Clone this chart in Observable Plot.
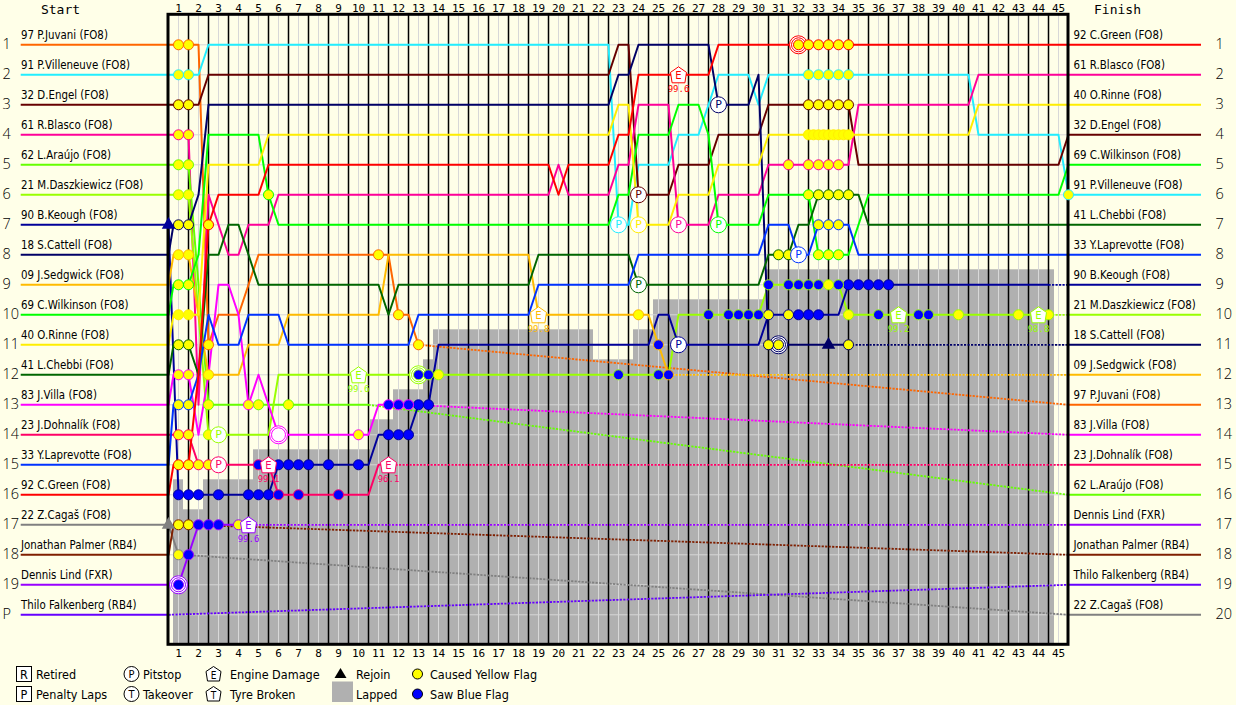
<!DOCTYPE html>
<html><head><meta charset="utf-8">
<script src="https://cdn.jsdelivr.net/npm/d3@7"></script>
<script src="https://cdn.jsdelivr.net/npm/@observablehq/plot@0.6"></script>
<style>
body{margin:0;background:#FFFFE8;}
#wrap{width:1236px;}
#chart svg{display:block;}
</style></head>
<body><div id="wrap"><div id="chart"></div>
<svg id="legend" width="1236" height="45" style="display:block" font-family="'DejaVu Sans Condensed', sans-serif" font-size="12.5">
  <rect x="16.5" y="6.5" width="15" height="15" fill="#fff" stroke="#000"/>
  <text x="24" y="18.5" text-anchor="middle">R</text>
  <text x="36" y="18.5">Retired</text>
  <rect x="16.5" y="26.5" width="15" height="15" fill="#fff" stroke="#000"/>
  <text x="24" y="38.5" text-anchor="middle">P</text>
  <text x="36" y="38.5">Penalty Laps</text>
  <circle cx="131.5" cy="14" r="7.5" fill="#fff" stroke="#000"/>
  <text x="131.5" y="18.3" text-anchor="middle" font-size="11">P</text>
  <text x="143" y="18.5">Pitstop</text>
  <circle cx="131.5" cy="34" r="7.5" fill="#fff" stroke="#000"/>
  <text x="131.5" y="38.3" text-anchor="middle" font-size="11">T</text>
  <text x="143" y="38.5">Takeover</text>
  <path d="M213.5,6.5 L221,11.5 L219.5,21 L207.5,21 L206,11.5 Z" fill="#fff" stroke="#000"/>
  <text x="213.5" y="19" text-anchor="middle" font-size="10">E</text>
  <text x="230" y="18.5">Engine Damage</text>
  <path d="M213.5,26.5 L221,31.5 L219.5,41 L207.5,41 L206,31.5 Z" fill="#fff" stroke="#000"/>
  <text x="213.5" y="39" text-anchor="middle" font-size="10">T</text>
  <text x="230" y="38.5">Tyre Broken</text>
  <path d="M340.5,8 L346.5,18 L334.5,18 Z" fill="#000"/>
  <text x="356" y="18.5">Rejoin</text>
  <rect x="332" y="21.5" width="21" height="20.5" fill="#b0b0b0"/>
  <text x="356" y="38.5">Lapped</text>
  <circle cx="417.5" cy="14" r="5" fill="#ffff00" stroke="#000"/>
  <text x="430" y="18.5">Caused Yellow Flag</text>
  <circle cx="417.5" cy="34" r="5" fill="#0000ff" stroke="#000"/>
  <text x="430" y="38.5">Saw Blue Flag</text>
</svg>
</div>
<script>
// ---------------- DATA ----------------
const laps = d3.range(1, 46);
const driverNames = ["97 P.Juvani (FO8)", "91 P.Villeneuve (FO8)", "32 D.Engel (FO8)", "61 R.Blasco (FO8)",
  "62 L.Araújo (FO8)", "21 M.Daszkiewicz (FO8)", "90 B.Keough (FO8)", "18 S.Cattell (FO8)",
  "09 J.Sedgwick (FO8)", "69 C.Wilkinson (FO8)", "40 O.Rinne (FO8)", "41 L.Chebbi (FO8)",
  "83 J.Villa (FO8)", "23 J.Dohnalík (FO8)", "33 Y.Laprevotte (FO8)", "92 C.Green (FO8)",
  "22 Z.Cagaš (FO8)", "Jonathan Palmer (RB4)", "Dennis Lind (FXR)", "Thilo Falkenberg (RB4)"];
const startPos = [1,2,3,4,5,6,7,8,9,10,11,12,13,14,15,16,17,18,19,20];
const startLabels = ["1","2","3","4","5","6","7","8","9","10","11","12","13","14","15","16","17","18","19","P"];
const finishPos = [13,6,4,2,16,10,9,11,12,5,3,7,14,15,8,1,20,18,17,19];
const finishLabels = ["1","2","3","4","5","6","7","8","9","10","11","12","13","14","15","16","17","18","19","20"];

// solid race lines: [lap, position]
const pathJuvani = [[0.5,1],[2,1],[2.5,11],[3,10],[4,10],[5,8],[11.5,8],[12,10],[12.5,10],[13,11]];
const pathVilleneuve = [[0.5,2],[2,2],[2.5,1],[22.5,1],[23,7],[23.5,7],[24,5],[25.5,5],[26,4],[27,4],[28,2],[29.5,2],[30,3],[30.5,2],[40.5,2],[41,4],[45,4],[45.5,6]];
const pathEngel = [[0.5,3],[2,3],[2.5,2],[22.5,2],[23,1],[23.5,1],[24,6],[25.5,6],[26,5],[27.5,5],[28,4],[30,4],[30.5,3],[34.5,3],[35,5],[45,5],[45.5,4]];
const pathBlasco = [[0.5,4],[1.5,4],[2,13],[2.5,6],[3,7],[3.5,8],[4,8],[4.5,7],[5.5,7],[6,6],[19.5,6],[20,5],[20.5,6],[22.5,6],[23,5],[23.5,5],[24,3],[25.5,3],[26,7],[27.5,7],[28,6],[30,6],[30.5,5],[34.5,5],[35,3],[40.5,3],[41,2],[45.5,2]];
const pathAraujo = [[0.5,5],[1.5,5],[2,9],[2.5,13],[10.5,13]];
const pathDaszkiewicz = [[0.5,6],[1.5,6],[2,10],[2.5,14],[3,14],[5.5,14],[6,12],[25.5,12],[26,10],[30,10],[30.5,9],[34,9],[34.5,10],[44.5,10]];
const pathKeough = [[0.5,7],[1,16],[5.5,16],[6,15],[10.5,15],[11,14],[12.5,14],[13,13],[13.5,13],[14,11],[24.5,11],[25,10],[25.5,10],[26,11],[30,11],[30.5,10],[34,10],[34.5,9],[44.5,9]];
const pathCattell = [[0.5,8],[0.75,7],[1.5,7],[2,6],[2.5,3],[22.5,3],[23,2],[23.5,2],[24,1],[27.5,1],[28,3],[29.5,3],[30,2],[30.5,11],[34.5,11]];
const pathSedgwick = [[0.5,9],[0.75,8],[1.5,8],[2,10],[2.5,12],[4,12],[4.5,11],[6,11],[6.5,10],[11,10],[11.5,8],[18.5,8],[19,10],[24.5,10],[25,11],[25.5,12]];
const pathWilkinson = [[0.5,10],[0.75,9],[1.5,9],[2,8],[2.5,4],[5,4],[5.5,6],[6,7],[22.5,7],[23,6],[23.5,6],[24,4],[25.5,4],[26,3],[27,3],[27.5,4],[28,7],[30,7],[30.5,6],[32.5,6],[33,8],[34.5,8],[35,7],[35.5,6],[45,6],[45.5,5]];
const pathRinne = [[0.5,11],[0.75,10],[2,10],[2.5,5],[5,5],[5.5,4],[22.5,4],[23,3],[23.5,3],[24,7],[25.5,7],[26,6],[27.5,6],[28,5],[30,5],[30.5,4],[40.5,4],[41,3],[45.5,3]];
const pathChebbi = [[0.5,12],[0.75,11],[1.5,11],[2,12],[2.5,8],[3,8],[3.5,7],[4,7],[4.5,8],[5,9],[11,9],[11.5,10],[12,9],[18.5,9],[19,8],[23.5,8],[24,9],[30,9],[30.5,8],[31.5,8],[32,7],[32.5,7],[33,6],[35,6],[35.5,7],[45.5,7]];
const pathVilla = [[0.5,13],[0.75,12],[1.5,12],[2,14],[2.5,12],[3,9],[3.5,9],[4,10],[4.5,13],[5,12],[5.5,13],[6,14],[10.5,14],[11,13],[12.5,13]];
const pathDohnalik = [[0.5,14],[1.5,14],[2,15],[3,15],[5.5,15],[6,16],[10.5,16],[11,15],[11.5,15]];
const pathLaprevotte = [[0.5,15],[0.75,13],[1.5,13],[2,12],[2.5,10],[3,11],[4,11],[4.5,10],[6,10],[6.5,11],[12.5,11],[13,10],[18.5,10],[19,9],[23.5,9],[24,8],[30,8],[30.5,7],[31.5,7],[32,8],[32.5,8],[33,7],[34.5,7],[35,8],[45.5,8]];
const pathGreen = [[0.5,16],[0.75,15],[1.5,15],[2,12],[2.5,7],[3,6],[5,6],[5.5,5],[19.5,5],[20,6],[20.5,5],[22.5,5],[23,4],[23.5,4],[24,2],[27.5,2],[28,1],[45.5,1]];
const pathCagas = [[0.5,17],[1,18],[1.25,18]];
const pathPalmer = [[0.5,18],[0.75,17],[1.5,17]];
const pathLind = [[0.5,19],[1,19],[1.5,18],[2,17],[4.5,17]];
const pathFalkenberg = [[0.5,20]];

// dotted (lapped / out) lines: [lap, position]
const dotJuvani = [[13,11],[45.5,13]];
const dotAraujo = [[10.5,13],[45.5,16]];
const dotDaszkiewicz = [[44.5,10],[45.5,10]];
const dotKeough = [[44.5,9],[45.5,9]];
const dotCattell = [[34.5,11],[45.5,11]];
const dotSedgwick = [[25.5,12],[45.5,12]];
const dotVilla = [[12.5,13],[45.5,14]];
const dotDohnalik = [[11.5,15],[45.5,15]];
const dotCagas = [[1.25,18],[45.5,20]];
const dotPalmer = [[1.5,17],[45.5,18]];
const dotLind = [[4.5,17],[45.5,17]];
const dotFalkenberg = [[0.5,20],[45.5,19]];

// markers: [lap, position, driver index]
const yellowFlags = [
  [1,1,0],[1.5,1,0],[1,2,1],[1.5,2,1],[1,3,2],[1.5,3,2],[1,4,3],[1.5,4,3],[1,5,4],[1.5,5,4],
  [1,6,5],[1.5,6,5],[1,7,7],[1.5,7,7],[1,8,8],[1.5,8,8],[1,9,9],[1.5,9,9],[1,10,10],[1.5,10,10],
  [1,11,11],[1.5,11,11],[1,12,12],[1.5,12,12],[1,13,14],[1.5,13,14],[1,14,13],[1.5,14,13],
  [1,15,15],[1.5,15,15],[1,17,17],[1.5,17,17],[1,18,16],
  [2,15,13],[2.5,15,13],[2.5,7,15],[2.5,11,0],[2.5,12,8],[2.5,13,4],[2.5,14,5],
  [4.5,13,12],[5,13,4],[5.5,6,9],[6.5,13,4],[4,17,18],[10,14,12],
  [11,8,0],[12,10,0],[13,11,0],[14,12,5],[24,10,8],
  [30.5,10,6],[31.5,10,6],[30.5,11,7],[31,11,7],[34.5,11,7],
  [31,8,11],[31.5,8,11],[31.5,5,3],
  [32,1,15],[32.5,1,15],[33,1,15],[33.5,1,15],[34,1,15],[34.5,1,15],
  [32.5,2,1],[33,2,1],[33.5,2,1],[34,2,1],[34.5,2,1],
  [32.5,3,2],[33,3,2],[33.5,3,2],[34,3,2],[34.5,3,2],
  [32.5,4,10],[32.75,4,10],[33,4,10],[33.25,4,10],[33.5,4,10],[33.75,4,10],[34,4,10],[34.25,4,10],[34.5,4,10],
  [32.5,5,3],[33,5,3],[33.5,5,3],[34,5,3],
  [32.5,6,9],[33,6,11],[33.5,6,11],[34,6,11],[34.5,6,11],
  [33,7,14],[33.5,7,14],[34,7,14],
  [33,8,9],[33.5,8,9],[34,8,9],
  [33.5,9,5],[34.5,10,5],[40,10,5],[43,10,5],[44.5,10,5],
  [45.5,6,1]
];
const blueFlags = [
  [1,16,6],[1.5,16,6],[2,16,6],[3,16,6],[4.5,16,6],[5,16,6],[5.5,16,6],[6,15,6],[6.5,15,6],[7,15,6],
  [7.5,15,6],[8.5,15,6],[10,15,6],[11.5,14,6],[12,14,6],[12.5,14,6],[13,13,6],[13.5,13,6],
  [32,10,6],[32.5,10,6],[33,10,6],[34.5,9,6],[35,9,6],[35.5,9,6],[36,9,6],[36.5,9,6],
  [1,19,18],[1.5,18,18],[2,17,18],[2.5,17,18],[3,17,18],
  [5,15,13],[5.5,15,13],[6,16,13],[7,16,13],[9,16,13],
  [11.5,13,12],[12,13,12],[12.5,13,12],
  [13,12,5],[13.5,12,5],[23,12,5],[25,12,5],[27.5,10,5],[28.5,10,5],[29,10,5],[29.5,10,5],[30,10,5],
  [30.5,9,5],[31.5,9,5],[32,9,5],[32.5,9,5],[33,9,5],[34,9,5],[36,10,5],[38,10,5],[38.5,10,5],
  [25,11,8],[25.5,12,8]
];
const pitstops = [[3,14,5],[3,15,13],[23,7,1],[24,6,2],[24,7,10],[24,9,11],[26,7,3],[26,11,6],[28,3,7],[28,7,9],[32,8,14]];
const doubleRings = [[1,19,18],[6,14,12],[13,12,5],[31,11,7],[32,1,15]];
const engineDamage = [[4.5,17,18,"99.6"],[5.5,15,13,"99.1"],[10,12,5,"99.6"],[11.5,15,13,"96.1"],[19,10,8,"99.8"],[26,2,15,"99.6"],[37,10,5,"99.2"],[44,10,5,"98.8"]];
const rejoins = [[0.5,7,6],[0.5,17,16],[33.5,11,7]];

// lapped (grey) region: lap from, lap to, top position
const lappedFrom = [0.75,1.25,2.25,4.75,10.6,11.75,13.25,13.75,21.75,23.75,24.75,30.35];
const lappedTo   = [1.25,2.25,4.75,10.6,11.75,13.25,13.75,21.75,23.75,24.75,30.35,44.8];
const lappedTop  = [15.5,16.5,15.5,14.5,13.5,12.5,11.5,10.5,11.5,10.5,9.5,8.5];

// ---------------- STYLE ----------------
const driverColors = ["#FF6600","#22EEFF","#660000","#FF0099","#66FF00","#99FF00","#000099","#000066",
  "#FFBB00","#00FF00","#FFEE00","#006600","#FF00FF","#FF0066","#0033FF","#FF0000",
  "#808080","#7F1F00","#9900FF","#6600FF"];
const solidPaths = [pathJuvani,pathVilleneuve,pathEngel,pathBlasco,pathAraujo,pathDaszkiewicz,pathKeough,pathCattell,
  pathSedgwick,pathWilkinson,pathRinne,pathChebbi,pathVilla,pathDohnalik,pathLaprevotte,pathGreen,
  pathCagas,pathPalmer,pathLind,pathFalkenberg];
const dottedPaths = [[0,dotJuvani],[4,dotAraujo],[5,dotDaszkiewicz],[6,dotKeough],[7,dotCattell],[8,dotSedgwick],
  [12,dotVilla],[13,dotDohnalik],[16,dotCagas],[17,dotPalmer],[18,dotLind],[19,dotFalkenberg]];

const W = 1236, H = 660;
const X = px => (px - 158) / 20;     // pixel -> lap units
const Y = py => (py - 14.3) / 30;    // pixel -> position units
const labelFont = "'DejaVu Sans Condensed', sans-serif";
const monoFont = "'DejaVu Sans Mono', monospace";
const numFont = "'Open Sans', 'DejaVu Sans', sans-serif";
const rows = d3.range(1, 21);
const boundaries = laps.slice(0, -1).map(l => l + 0.5);
const pentagon = {draw(ctx, size) {
  const r = Math.sqrt(size / Math.PI);
  ctx.moveTo(0, -r); ctx.lineTo(r, -r * 0.3); ctx.lineTo(r * 0.8, r); ctx.lineTo(-r * 0.8, r); ctx.lineTo(-r, -r * 0.3); ctx.closePath();
}};
const col = d => driverColors[d[2]];

const marks = [
  Plot.rect(lappedTop, {x1: (d, i) => lappedFrom[i], x2: (d, i) => lappedTo[i], y1: d => d, y2: 21, fill: "#b0b0b0"}),
  Plot.ruleX(laps, {x: d => d, y1: 0, y2: 21, stroke: "#d8d8d8", strokeWidth: 1}),
  Plot.ruleY(rows, {y: d => d, x1: 0.5, x2: 45.5, stroke: "#d8d8d8", strokeWidth: 1}),
  Plot.ruleX(boundaries, {x: d => d, y1: 0, y2: 21, stroke: "#000", strokeWidth: 1.5}),
  // start / finish connectors
  Plot.ruleY(startPos, {y: d => d, x1: X(20.7), x2: 0.5, stroke: (d, i) => driverColors[i], strokeWidth: 2}),
  Plot.ruleY(finishPos, {y: d => d, x1: 45.5, x2: X(1201), stroke: (d, i) => driverColors[i], strokeWidth: 2}),
];
dottedPaths.forEach(([di, pts]) => marks.push(
  Plot.line(pts, {x: p => p[0], y: p => p[1], stroke: driverColors[di], strokeWidth: 1.8, strokeDasharray: "2.2,1.3", strokeLinecap: "butt"})));
solidPaths.forEach((pts, di) => { if (pts.length > 1) marks.push(
  Plot.line(pts, {x: p => p[0], y: p => p[1], stroke: driverColors[di], strokeWidth: 2}))});
marks.push(
  Plot.rect([0], {x1: 0.5, x2: 45.5, y1: 0, y2: 21, fill: "none", stroke: "#000", strokeWidth: 3}),
  Plot.dot(doubleRings, {x: d => d[0], y: d => d[1], r: 9, fill: "#fff", stroke: col, strokeWidth: 1}),
  Plot.dot(doubleRings, {x: d => d[0], y: d => d[1], r: 7, fill: "#fff", stroke: col, strokeWidth: 1}),
  Plot.dot(yellowFlags, {x: d => d[0], y: d => d[1], r: 5, fill: "#ffff00", stroke: col, strokeWidth: 1}),
  Plot.dot(blueFlags, {x: d => d[0], y: d => d[1], r: 5, fill: "#0000ff", stroke: col, strokeWidth: 1}),
  Plot.dot(pitstops, {x: d => d[0], y: d => d[1], r: 8, fill: "#fff", stroke: col, strokeWidth: 1}),
  Plot.text(pitstops, {x: d => d[0], y: d => d[1], text: () => "P", fill: col, fontSize: 11, fontFamily: "'DejaVu Sans', sans-serif"}),
  Plot.dot(engineDamage, {x: d => d[0], y: d => d[1], r: 8, symbol: pentagon, fill: "#fff", stroke: col, strokeWidth: 1}),
  Plot.text(engineDamage, {x: d => d[0], y: d => d[1], text: () => "E", dy: 1, fill: col, fontSize: 10, fontFamily: "'DejaVu Sans', sans-serif"}),
  Plot.text(engineDamage, {x: d => d[0], y: d => d[1], text: d => d[3], dy: 14, fill: col, fontSize: 9, fontFamily: monoFont}),
  Plot.dot(rejoins, {x: d => d[0], y: d => d[1], r: 5, symbol: "triangle", fill: col, stroke: "none"}),
  // labels
  Plot.text(driverNames, {x: X(20.5), y: (d, i) => startPos[i], text: d => d, textAnchor: "start", dy: -9, fontSize: 11.4, fontFamily: labelFont, fill: "#000"}),
  Plot.text(driverNames, {x: X(1073), y: (d, i) => finishPos[i], text: d => d, textAnchor: "start", dy: -9, fontSize: 11.4, fontFamily: labelFont, fill: "#000"}),
  Plot.text(startLabels, {x: X(2), y: (d, i) => startPos[i], text: d => d, textAnchor: "start", fontSize: 14.5, fontWeight: 300, fontFamily: numFont, fill: "#000"}),
  Plot.text(finishLabels, {x: X(1215), y: (d, i) => i + 1, text: d => d, textAnchor: "start", fontSize: 14.5, fontWeight: 300, fontFamily: numFont, fill: "#000"}),
  Plot.text(laps, {x: d => d, y: Y(8), text: d => String(d), fontSize: 11, fontFamily: monoFont, fill: "#000"}),
  Plot.text(laps, {x: d => d, y: Y(653), text: d => String(d), fontSize: 11, fontFamily: monoFont, fill: "#000"}),
  Plot.text(["Start"], {x: X(60), y: Y(9), text: d => d, fontSize: 13, fontFamily: monoFont, fill: "#000"}),
  Plot.text(["Finish"], {x: X(1117), y: Y(9), text: d => d, fontSize: 13, fontFamily: monoFont, fill: "#000"})
);

const chart = Plot.plot({
  width: W, height: H, margin: 0,
  x: {domain: [X(0), X(W)], range: [0, W], axis: null},
  y: {domain: [Y(0), Y(H)], range: [0, H], axis: null},
  color: {type: "identity"},
  style: {background: "#FFFFE8", overflow: "visible"},
  marks
});
document.getElementById("chart").appendChild(chart);
</script>
</body></html>
